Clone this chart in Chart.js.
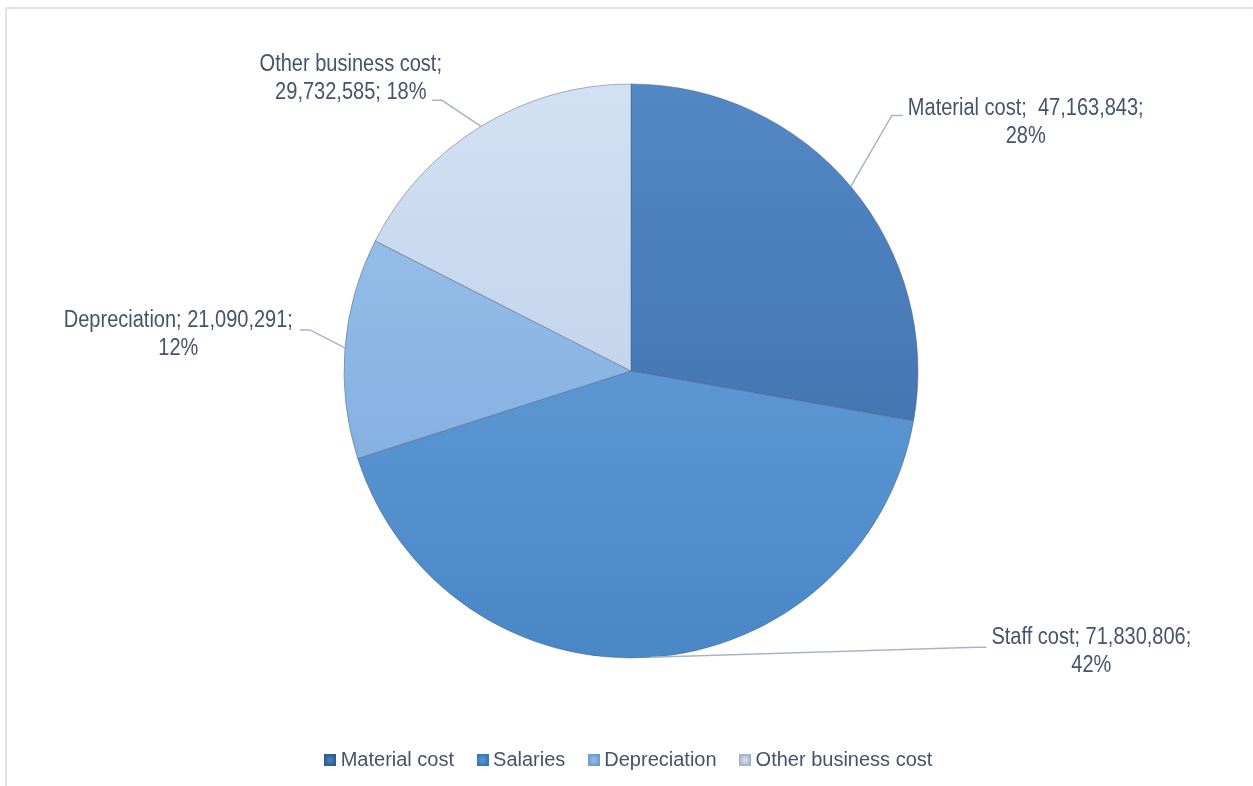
<!DOCTYPE html>
<html>
<head>
<meta charset="utf-8">
<script src="https://cdn.jsdelivr.net/npm/chart.js@4.4.1/dist/chart.umd.min.js"></script>
<style>
  html, body { margin: 0; padding: 0; background: #fff; }
  body { width: 1253px; height: 786px; position: relative; overflow: hidden; }
  #frame { position: absolute; left: 5px; top: 7px; width: 1300px; height: 900px;
           border-top: 2px solid #dfe3ea; border-left: 2px solid #dfe3ea; }
  #wrap { position: absolute; left: 0; top: 0; width: 1253px; height: 786px; }
</style>
</head>
<body>
<div id="frame"></div>
<div id="wrap"><canvas id="chart" width="1253" height="786"></canvas></div>
<script>
var categories = ['Material cost', 'Staff cost', 'Depreciation', 'Other business cost'];
var legendNames = ['Material cost', 'Salaries', 'Depreciation', 'Other business cost'];
var costs = [47163843, 71830806, 21090291, 29732585];

// label break: true = value goes on the second line with the name alone on the first
var breakAfterName = [false, false, false, true];

// slice shading, light (top) -> dark (bottom)
var sliceTop = ['#5288c5', '#6ea6e0', '#9fc4ec', '#d2e0f3'];
var sliceBottom = ['#3b6aa5', '#4a87c7', '#77a7db', '#b6cae6'];
var swatchDark = ['#2c5a92', '#3677b8', '#6d9bd0', '#a9b3c8'];
var swatchLight = ['#4f86c2', '#5d9bd8', '#9cc0e8', '#dfe4ee'];

// callout placement relative to the outer middle point of each slice
var labelLayout = [
  { tx: 57, dy: -64, ex: 41, ey: -71, tail: 11, side: 1 },
  { tx: 341, dy: -6, ex: 326, ey: -10, tail: 10, side: 1 },
  { tx: -52, dy: -13, ex: -35, ey: -18, tail: -10, side: -1 },
  { tx: -39, dy: -48, ex: -39, ey: -26, tail: -10, side: -1 }
];

var total = costs.reduce(function(a, b) { return a + b; }, 0);
var fmt = function(v) { return v.toLocaleString('en-US'); };
var labelLines = categories.map(function(name, i) {
  var pct = Math.round(costs[i] / total * 100) + '%';
  var sep = i === 0 ? ';  ' : '; ';
  if (breakAfterName[i]) return [name + ';', fmt(costs[i]) + '; ' + pct];
  return [name + sep + fmt(costs[i]) + ';', pct];
});

var textFamily = '"Liberation Sans", Arial, sans-serif';
Chart.defaults.font.family = textFamily;

function makeSwatch(dark, light) {
  var c = document.createElement('canvas');
  c.width = 12; c.height = 12;
  var g = c.getContext('2d');
  g.fillStyle = dark;
  g.fillRect(0, 0, 12, 12);
  var grad = g.createRadialGradient(6, 6, 0, 6, 6, 6);
  grad.addColorStop(0, light);
  grad.addColorStop(1, dark);
  g.fillStyle = grad;
  g.fillRect(1, 1, 10, 10);
  return c;
}
var swatches = swatchDark.map(function(d, i) { return makeSwatch(d, swatchLight[i]); });

function sliceFill(context) {
  var chart = context.chart;
  var area = chart.chartArea;
  var i = context.dataIndex;
  if (!area) return sliceTop[i];
  var cy = (area.top + area.bottom) / 2;
  var r = 287;
  var grad = chart.ctx.createLinearGradient(0, cy - r, 0, cy + r);
  grad.addColorStop(0, sliceTop[i]);
  grad.addColorStop(1, sliceBottom[i]);
  return grad;
}

// condensed look: taller glyphs squeezed back to the same width
var lineH = 28, squeeze = 0.87;
var callouts = {
  id: 'callouts',
  afterDatasetsDraw: function(chart) {
    var ctx = chart.ctx;
    var arcs = chart.getDatasetMeta(0).data;
    ctx.save();
    ctx.font = '23px ' + textFamily;
    ctx.textAlign = 'center';
    ctx.textBaseline = 'middle';
    arcs.forEach(function(arc, i) {
      var p = arc.getProps(['x', 'y', 'startAngle', 'endAngle', 'outerRadius'], true);
      var mid = (p.startAngle + p.endAngle) / 2;
      var ex = p.x + Math.cos(mid) * p.outerRadius;
      var ey = p.y + Math.sin(mid) * p.outerRadius;
      var lay = labelLayout[i];

      ctx.strokeStyle = '#a8b4c6';
      ctx.lineWidth = 1.5;
      ctx.beginPath();
      ctx.moveTo(ex, ey);
      ctx.lineTo(ex + lay.ex, ey + lay.ey);
      ctx.lineTo(ex + lay.ex + lay.tail, ey + lay.ey);
      ctx.stroke();

      var lines = labelLines[i];
      var w = squeeze * Math.max.apply(null, lines.map(function(t) { return ctx.measureText(t).width; }));
      var cx = ex + lay.tx + lay.side * w / 2;
      var y0 = ey + lay.dy - (lines.length - 1) * lineH / 2;
      ctx.fillStyle = '#44546a';
      lines.forEach(function(t, k) {
        ctx.save();
        ctx.translate(cx, y0 + k * lineH);
        ctx.scale(squeeze, 1);
        ctx.fillText(t, 0, 0);
        ctx.restore();
      });
    });
    ctx.restore();
  }
};

new Chart(document.getElementById('chart'), {
  type: 'pie',
  data: {
    labels: legendNames,
    datasets: [{
      data: costs,
      backgroundColor: sliceFill,
      borderColor: 'rgba(70, 90, 125, 0.45)',
      borderWidth: 1
    }]
  },
  options: {
    responsive: false,
    animation: false,
    radius: 287,
    layout: { padding: { left: 9, right: 0, top: 20, bottom: 6 } },
    plugins: {
      tooltip: { enabled: false },
      legend: {
        position: 'bottom',
        labels: {
          usePointStyle: true,
          pointStyleWidth: 1,
          boxWidth: 12,
          boxHeight: 12,
          padding: 28,
          color: '#44546a',
          font: { size: 20 },
          generateLabels: function(chart) {
            return legendNames.map(function(name, i) {
              return { text: name, pointStyle: swatches[i], fontColor: '#44546a',
                       fillStyle: swatchLight[i], strokeStyle: swatchDark[i], lineWidth: 0, index: i };
            });
          }
        }
      }
    }
  },
  plugins: [callouts]
});
</script>
</body>
</html>
